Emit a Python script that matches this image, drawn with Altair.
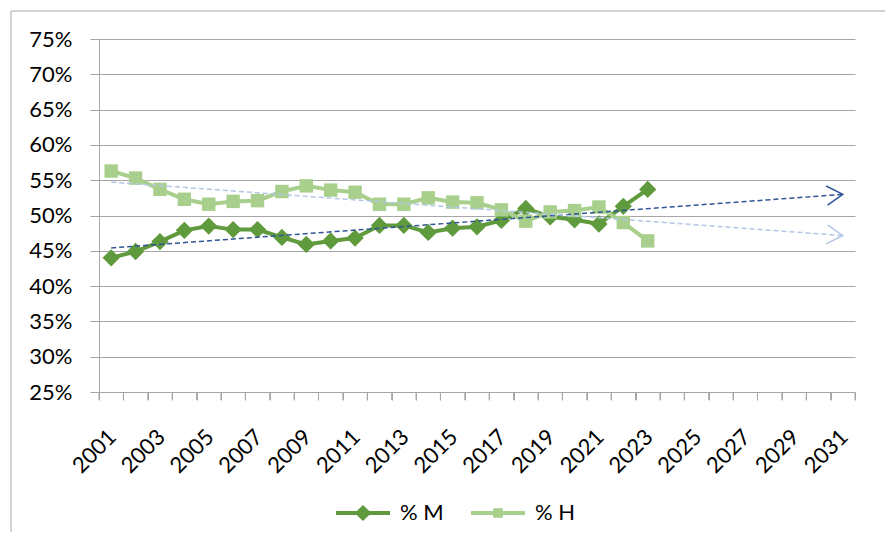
import altair as alt
import pandas as pd

# ---- data ----
years = list(range(2001, 2024))
pct_m = [44.0, 44.9, 46.3, 47.9, 48.5, 48.0, 48.0, 46.9, 45.9, 46.4, 46.8, 48.6,
         48.6, 47.6, 48.2, 48.4, 49.3, 51.0, 49.8, 49.4, 48.8, 51.3, 53.7]
pct_h = [56.3, 55.3, 53.7, 52.3, 51.6, 52.0, 52.1, 53.4, 54.2, 53.6, 53.3, 51.6,
         51.6, 52.5, 51.9, 51.8, 50.8, 49.2, 50.5, 50.7, 51.2, 49.0, 46.4]
series_names = ["% M", "% H"]
y_ticks = [0.25, 0.30, 0.35, 0.40, 0.45, 0.50, 0.55, 0.60, 0.65, 0.70, 0.75]
x_first, x_last = 2001, 2031
x_bounds = [x_first - 0.5 + i for i in range(x_last - x_first + 2)]

# ---- styles ----
series_colors = ["#5F9A3C", "#A8CF8C"]
trend_colors = ["#2F5597", "#B4C7E7"]
grid_gray = "#A6A6A6"
FONT = "Lato"
FS = 22

df = pd.DataFrame({
    "year": years * 2,
    "series": [series_names[0]] * len(years) + [series_names[1]] * len(years),
    "value": [v / 100 for v in pct_m] + [v / 100 for v in pct_h],
})
bounds_df = pd.DataFrame({"year": x_bounds})

W, H = 756, 353
band = W / (x_last - x_first + 1)

xscale = alt.Scale(domain=[x_first - 0.5, x_last + 0.5], nice=False, zero=False)
yscale = alt.Scale(domain=[0.25, 0.75], nice=False, zero=False)
# reversed domain order for the non-legend scales so their hidden legends
# are not merged with the visible legend
cscale = alt.Scale(domain=series_names[::-1], range=series_colors[::-1])
tscale = alt.Scale(domain=series_names[::-1], range=trend_colors[::-1])


def x_axis():
    return alt.Axis(
        values=x_bounds, tickCount=200,
        labelExpr="(datum.value + 0.5) % 2 == 1 ? '' + (datum.value + 0.5) : ''",
        labelAngle=315, labelAlign="right", labelBaseline="middle",
        labelOffset=band / 2 + 1, labelPadding=33,
        labelOverlap=False, labelFlush=False, labelBound=False,
        ticks=True, tickSize=8, tickWidth=1, tickOpacity=1, tickColor=grid_gray,
        domainColor=grid_gray, grid=False, title=None,
    )


def y_axis():
    return alt.Axis(
        values=y_ticks, tickCount=200, format=".0%", grid=True, gridColor=grid_gray,
        ticks=True, tickSize=9, tickColor=grid_gray, domainColor=grid_gray,
        labelOverlap=False, labelPadding=18, title=None,
    )


def X():
    return alt.X("year:Q", scale=xscale, axis=x_axis())


def Y():
    return alt.Y("value:Q", scale=yscale, axis=y_axis())


diamond_line = ("M-1,-0.07L-0.23,-0.07L0,-0.3L0.23,-0.07L1,-0.07L1,0.07"
                "L0.23,0.07L0,0.3L-0.23,0.07L-1,0.07Z")
square_line = ("M-1,-0.07L-0.18,-0.07L-0.18,-0.18L0.18,-0.18L0.18,-0.07L1,-0.07"
               "L1,0.07L0.18,0.07L0.18,0.18L-0.18,0.18L-0.18,0.07L-1,0.07Z")


def make_legend():
    return alt.Legend(
        title=None, orient="none", direction="horizontal",
        legendX=237, legendY=447, padding=0,
        symbolSize=2916, symbolStrokeWidth=0, symbolOpacity=1,
        labelOffset=10, columnPadding=27,
        labelFont=FONT, labelFontSize=FS, labelColor="#000000",
    )


frame = alt.Chart(pd.DataFrame({"k": [0]})).mark_rect(
    fill="transparent", stroke=grid_gray, strokeWidth=1
).encode(
    x=alt.value(-88), x2=alt.value(W + 60), y=alt.value(-28), y2=alt.value(H + 200)
)

# category-boundary tick marks on the x axis
xticks = alt.Chart(bounds_df).mark_rule(color=grid_gray, strokeWidth=1).encode(
    x=X(), y=alt.value(H), y2=alt.value(H + 8)
)

lines = alt.Chart(df).mark_line(strokeWidth=4).encode(
    x=X(), y=Y(), color=alt.Color("series:N", scale=cscale, legend=None),
    detail="series:N",
)

# invisible layer that only feeds the legend (line + marker symbols)
legend_layer = alt.Chart(df).mark_point(filled=True, opacity=0, size=2916, strokeWidth=0).encode(
    x=X(), y=Y(),
    fill=alt.Fill("series:N", scale=alt.Scale(domain=series_names, range=series_colors),
                  legend=make_legend()),
    shape=alt.Shape("series:N", scale=alt.Scale(domain=series_names, range=[diamond_line, square_line]),
                    legend=make_legend()),
)

points_m = alt.Chart(df).transform_filter("datum.series === '% M'").mark_point(
    filled=True, opacity=1, shape="diamond", size=300
).encode(x=X(), y=Y(), color=alt.Color("series:N", scale=cscale, legend=None))
points_h = alt.Chart(df).transform_filter("datum.series === '% H'").mark_point(
    filled=True, opacity=1, shape="square", size=180
).encode(x=X(), y=Y(), color=alt.Color("series:N", scale=cscale, legend=None))

trend_base = alt.Chart(df).transform_regression(
    "year", "value", groupby=["series"], extent=[x_first, x_last]
)
trend = trend_base.mark_line(strokeDash=[5, 3], strokeWidth=1.5).encode(
    x=X(), y=Y(), stroke=alt.Stroke("series:N", scale=tscale, legend=None),
)
arrow_path = "M-1,-0.6L0,0L-1,0.6"
arrow_m = trend_base.transform_filter(
    f"datum.year >= {x_last} && datum.series === '% M'"
).mark_point(shape=arrow_path, filled=False, size=1024, strokeWidth=1.5, angle=355.7, opacity=1).encode(
    x=X(), y=Y(), stroke=alt.Stroke("series:N", scale=tscale, legend=None),
)
arrow_h = trend_base.transform_filter(
    f"datum.year >= {x_last} && datum.series === '% H'"
).mark_point(shape=arrow_path, filled=False, size=1024, strokeWidth=1.5, angle=4.2, opacity=1).encode(
    x=X(), y=Y(), stroke=alt.Stroke("series:N", scale=tscale, legend=None),
)

chart = alt.layer(frame, xticks, lines, legend_layer, points_m, points_h, trend, arrow_m, arrow_h).properties(
    width=W, height=H,
    autosize=alt.AutoSizeParams(type="none"),
    padding={"left": 91, "top": 31, "right": 30, "bottom": 140},
).configure_view(stroke=None).configure_axis(
    labelFont=FONT, labelFontSize=FS, labelColor="#000000",
).configure_legend(
    labelFont=FONT, labelFontSize=FS, labelColor="#000000",
)

chart.save("out.html", embed_options={"renderer": "svg", "actions": False})
